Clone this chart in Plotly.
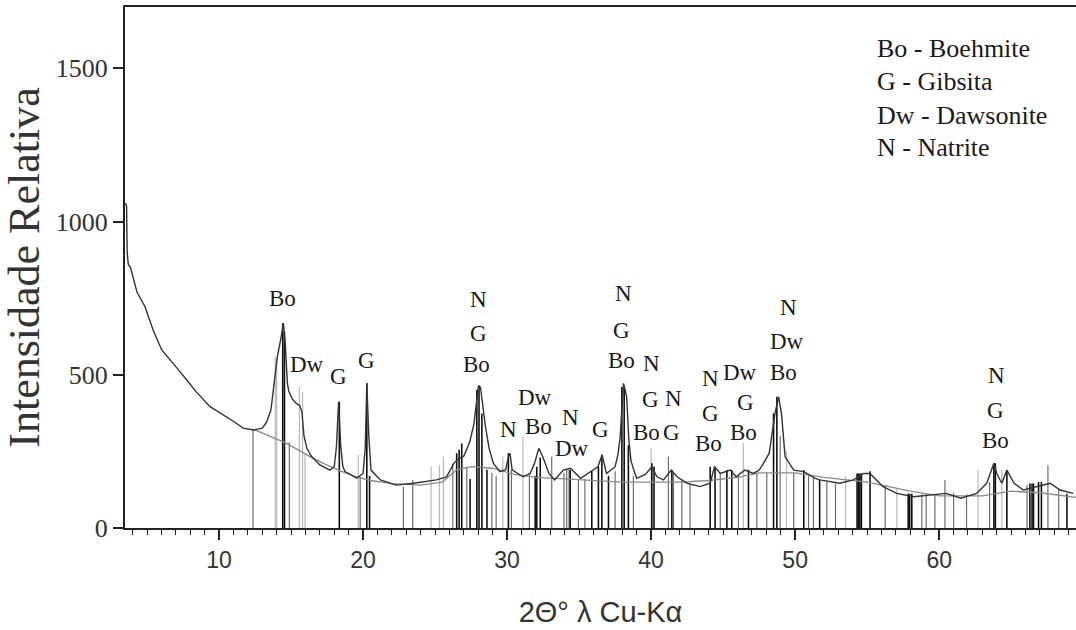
import plotly.graph_objects as go

# ---------------- data ----------------
obs_x = [3.50, 3.58, 3.62, 3.70, 3.85, 4.0, 4.3, 4.86, 5.42, 6.02, 6.58, 7.2, 7.76, 8.4, 9.38,
         10.53, 11.1, 11.67, 12.4, 13.0, 13.3, 13.6, 13.85, 14.05, 14.3, 14.47, 14.6, 14.75,
         14.85, 15.1, 15.4, 15.6, 15.75, 15.9, 16.1, 16.4, 17.0, 17.7, 18.0, 18.15, 18.3, 18.45,
         18.6, 18.75, 19.56, 20.0, 20.15, 20.26, 20.4, 20.55, 21.2, 22.3, 23.5, 25.1, 25.8, 26.3,
         26.6, 27.0, 27.4, 27.7, 27.9, 28.0, 28.15, 28.3, 28.5, 28.75, 29.05, 29.5, 29.9, 30.1,
         30.2, 30.35, 30.7, 31.1, 31.6, 31.9, 32.2, 32.5, 32.9, 33.3, 33.9, 34.4, 35.1, 35.8,
         36.3, 36.6, 36.9, 37.5, 37.7, 37.85, 38.0, 38.08, 38.2, 38.3, 38.45, 38.6, 38.8, 39.0,
         39.6, 40.05, 40.4, 40.86, 41.4, 41.8, 42.5, 43.4, 44.1, 44.4, 44.8, 45.5, 45.9, 46.5,
         47.1, 47.5, 47.8, 48.2, 48.6, 48.85, 49.05, 49.3, 49.9, 50.6, 51.4, 51.7, 53.1, 54.05,
         54.75, 55.2, 56.1, 57.05, 58.2, 59.4, 60.5, 61.5, 62.6, 63.3, 63.8, 64.0, 64.35, 64.7,
         65.2, 65.85, 66.8, 67.7, 68.4, 69.3]
obs_y = [1060, 1050, 900, 860, 850, 820, 770, 722, 646, 581, 548, 515, 483, 445, 396,
         363, 345, 326, 320, 326, 345, 385, 483, 559, 620, 668, 600, 470,
         445, 420, 405, 400, 380, 300, 260, 235, 206, 189, 200, 265, 412, 265,
         200, 184, 163, 178, 260, 472, 298, 189, 157, 140, 146, 157, 167, 211,
         225, 235, 280, 340, 420, 461, 460, 400, 330, 260, 211, 184, 190, 233,
         244, 190, 178, 167, 178, 210, 260, 230, 178, 157, 189, 195, 162, 184,
         200, 238, 178, 200, 240, 298, 430, 472, 450, 428, 290, 220, 189, 162,
         175, 200, 167, 157, 189, 167, 146, 135, 146, 200, 178, 189, 167, 189,
         178, 189, 211, 244, 374, 428, 374, 233, 189, 184, 162, 157, 146, 157,
         178, 178, 135, 113, 102, 108, 113, 97, 113, 146, 211, 178, 146, 189,
         146, 124, 135, 146, 124, 113]

bg_x = [12.4, 13.5, 14.5, 15.5, 16.5, 17.5, 18.5, 19.5, 20.5, 22.0, 24.0, 25.5, 26.5, 27.5,
        29.0, 30.5, 32.0, 34.0, 36.0, 38.0, 40.0, 42.0, 44.0, 46.0, 47.5, 50.0, 52.0, 55.0,
        58.0, 60.0, 63.0, 65.0, 67.0, 69.5]
bg_y = [322, 300, 280, 255, 228, 205, 185, 168, 155, 145, 140, 150, 190, 200,
        195, 175, 165, 160, 155, 150, 150, 150, 155, 165, 180, 180, 165, 150,
        120, 105, 105, 120, 115, 100]

stick_x = [12.36, 13.9, 14.0, 14.42, 14.54, 14.88, 15.58, 15.8, 15.97, 18.35, 19.67, 19.8,
           20.26, 20.45, 22.8, 23.45, 24.72, 25.3, 25.58, 26.23, 26.5, 26.67, 26.85, 27.2,
           27.43, 27.9, 28.05, 28.25, 28.6, 28.94, 29.24, 29.7, 30.09, 30.3, 31.1, 31.55,
           31.95, 32.06, 32.3, 33.1, 33.95, 34.14, 34.3, 34.38, 34.95, 35.4, 35.88, 36.34,
           36.58, 37.04, 37.5, 37.97, 38.13, 38.42, 38.77, 40.0, 40.05, 40.2, 41.2, 41.44,
           41.55, 42.13, 42.7, 44.1, 44.44, 44.8, 45.26, 45.6, 46.06, 46.4, 46.76, 47.34,
           48.03, 48.5, 48.73, 48.96, 49.4, 49.9, 50.6, 50.93, 51.27, 51.7, 52.2, 52.8,
           53.5, 54.3, 54.4, 54.5, 54.6, 55.2, 56.25, 57.06, 57.85, 57.95, 58.1, 58.8,
           59.1, 59.7, 60.4, 61.0, 61.9, 62.7, 63.5, 63.8, 63.9, 64.35, 64.7, 66.1,
           66.3, 66.45, 66.55, 66.9, 67.1, 67.55, 68.3, 68.87]
stick_h = [322, 560, 545, 668, 640, 280, 460, 445, 245, 412, 238, 167,
           472, 170, 135, 157, 200, 205, 233, 210, 244, 255, 276, 200,
           160, 450, 466, 374, 190, 180, 170, 233, 244, 190, 300, 180,
           170, 200, 230, 233, 180, 190, 190, 190, 160, 160, 185, 200,
           240, 170, 185, 460, 460, 270, 170, 260, 211, 200, 233, 189,
           180, 160, 140, 200, 200, 180, 189, 189, 170, 277, 190, 180,
           180, 374, 428, 300, 250, 180, 189, 170, 165, 157, 150, 145,
           170, 178, 178, 178, 178, 185, 140, 130, 112, 112, 112, 110,
           110, 105, 157, 115, 110, 189, 150, 211, 211, 190, 189, 140,
           145, 145, 145, 150, 150, 205, 130, 112]
stick_kind = ['d', 'l', 'l', 'k', 'k', 'd', 'l', 'l', 'l', 'k', 'l', 'd',
              'k', 'k', 'd', 'd', 'l', 'l', 'l', 'd', 'k', 'k', 'k', 'd',
              'k', 'k', 'k', 'k', 'k', 'd', 'd', 'l', 'k', 'd', 'l', 'd',
              'k', 'k', 'k', 'd', 'd', 'd', 'd', 'k', 'd', 'd', 'k', 'k',
              'k', 'k', 'd', 'k', 'k', 'k', 'd', 'l', 'k', 'k', 'd', 'k',
              'd', 'd', 'd', 'k', 'k', 'd', 'k', 'k', 'd', 'l', 'k', 'd',
              'd', 'k', 'k', 'd', 'l', 'd', 'k', 'd', 'd', 'k', 'd', 'd',
              'l', 'k', 'k', 'k', 'k', 'k', 'd', 'l', 'k', 'k', 'k', 'd',
              'd', 'd', 'd', 'd', 'd', 'l', 'd', 'k', 'k', 'l', 'k', 'd',
              'k', 'k', 'k', 'k', 'k', 'd', 'd', 'k']

label_x = [14.38, 16.1, 18.28, 20.26,
           28.0, 28.0, 27.9,
           30.09, 31.94, 32.17, 34.38, 34.49, 36.46,
           38.08, 37.97, 37.97,
           40.05, 39.93, 39.7, 41.55, 41.44,
           44.1, 44.1, 43.96,
           46.18, 46.53, 46.41,
           49.53, 49.42, 49.19,
           64.0, 63.9, 63.9]
label_y = [750, 532, 493, 545,
           744, 636, 532,
           320, 427, 330, 362, 260, 320,
           766, 646, 548,
           538, 418, 313, 424, 310,
           489, 375, 277,
           506, 408, 310,
           721, 607, 509,
           499, 385, 287]
label_text = ['Bo', 'Dw', 'G', 'G',
              'N', 'G', 'Bo',
              'N', 'Dw', 'Bo', 'N', 'Dw', 'G',
              'N', 'G', 'Bo',
              'N', 'G', 'Bo', 'N', 'G',
              'N', 'G', 'Bo',
              'Dw', 'G', 'Bo',
              'N', 'Dw', 'Bo',
              'N', 'G', 'Bo']

key_text = ['Bo - Boehmite', 'G - Gibsita', 'Dw - Dawsonite', 'N - Natrite']

x_ticks = [10, 20, 30, 40, 50, 60]
y_ticks = [0, 500, 1000, 1500]

# ---------------- figure ----------------
fig = go.Figure()

kind_style = {'l': ('#b8b8b8', 1.2), 'd': ('#6e6e6e', 1.2), 'k': ('#111111', 1.6)}
for kind in ['l', 'd', 'k']:
    xs, ys = [], []
    for sx, sh, sk in zip(stick_x, stick_h, stick_kind):
        if sk == kind:
            xs += [sx, sx, None]
            ys += [0, sh, None]
    col, w = kind_style[kind]
    fig.add_trace(go.Scatter(x=xs, y=ys, mode='lines', line=dict(color=col, width=w),
                             hoverinfo='skip', showlegend=False))

fig.add_trace(go.Scatter(x=bg_x, y=bg_y, mode='lines', line=dict(color='#8a8a8a', width=1.3),
                         showlegend=False))
fig.add_trace(go.Scatter(x=obs_x, y=obs_y, mode='lines', line=dict(color='#333333', width=1.4),
                         showlegend=False))

for lx, ly, lt in zip(label_x, label_y, label_text):
    fig.add_annotation(x=lx, y=ly, text=lt, showarrow=False,
                       font=dict(family='Liberation Serif', size=23, color='#1a1a1a'))

key_y = [0.952, 0.889, 0.824, 0.762]
for kt, ky in zip(key_text, key_y):
    fig.add_annotation(x=0.789, y=ky, xref='paper', yref='paper', text=kt, showarrow=False,
                       xanchor='left', font=dict(family='Liberation Serif', size=26, color='#1a1a1a'))

fig.update_layout(
    width=1076, height=630,
    margin=dict(l=125, r=0, t=7, b=102),
    paper_bgcolor='white', plot_bgcolor='white',
    showlegend=False,
)
fig.update_xaxes(
    range=[3.47, 69.5], tickvals=x_ticks, ticks='outside', ticklen=10, tickwidth=1.5,
    tickcolor='#222', showline=True, linecolor='#222', linewidth=2, mirror=True,
    showgrid=False, zeroline=False,
    minor=dict(dtick=1, tick0=0, ticks='outside', ticklen=5, tickcolor='#222', tickwidth=1.2),
    tickfont=dict(family='Liberation Sans', size=23, color='#333'),
    title=dict(text='2Θ° λ Cu-Kα', font=dict(family='Liberation Sans', size=29, color='#333'),
               standoff=30),
)
fig.update_yaxes(
    range=[0, 1700], tickvals=y_ticks, ticks='outside', ticklen=10, tickwidth=1.5,
    tickcolor='#222', showline=True, linecolor='#222', linewidth=2, mirror=False,
    showgrid=False, zeroline=False,
    tickfont=dict(family='Liberation Serif', size=26, color='#333'),
    title=dict(text='Intensidade Relativa', font=dict(family='Liberation Serif', size=44, color='#333'),
               standoff=20),
)

fig.write_html('out.html', config={'displayModeBar': False},
               post_script="document.body.style.margin='0';document.body.style.overflow='hidden';")
